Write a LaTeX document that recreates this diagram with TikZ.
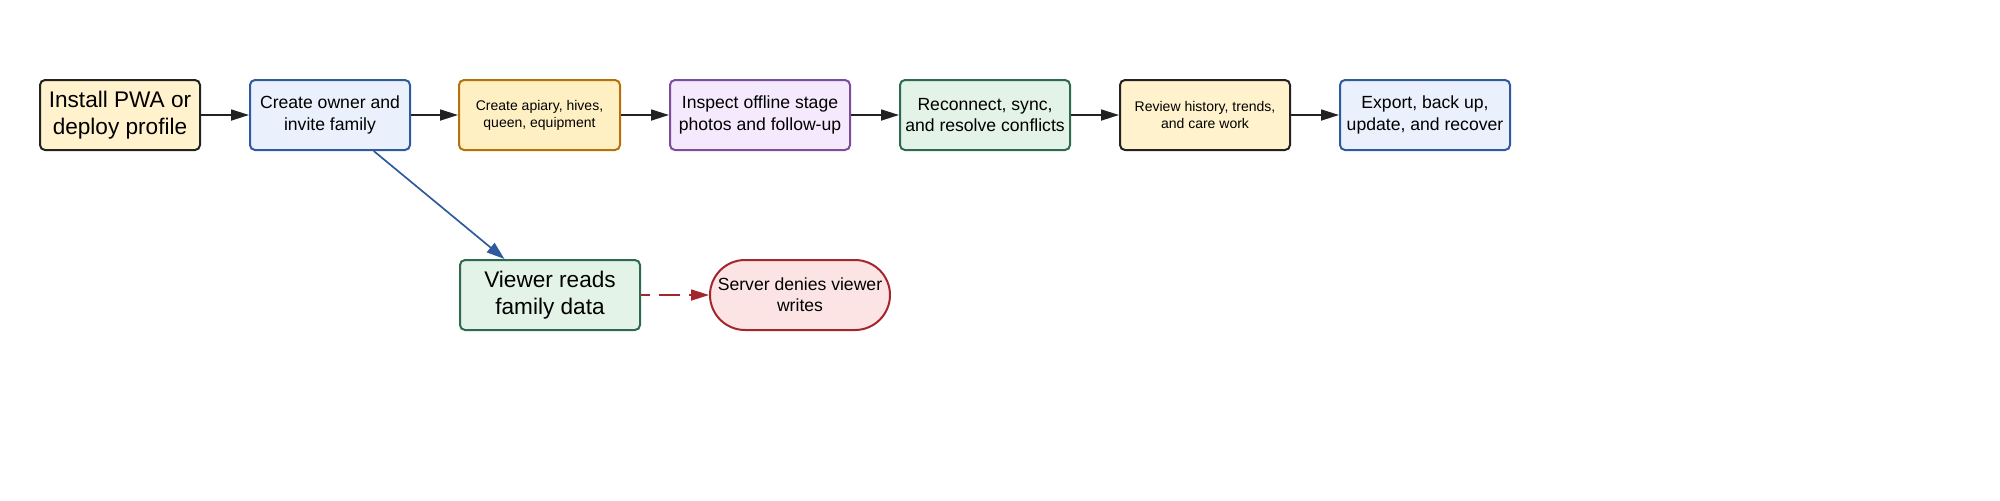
\documentclass[tikz,border=0pt]{standalone}
\usepackage{fontspec}
\setmainfont{Liberation Sans}
\usetikzlibrary{arrows.meta,calc}
\definecolor{yelfill}{HTML}{FFF2CC}
\definecolor{bluefill}{HTML}{EAF1FD}
\definecolor{bluedraw}{HTML}{2F5B9E}
\definecolor{orgfill}{HTML}{FFF0C4}
\definecolor{orgdraw}{HTML}{B8700A}
\definecolor{purfill}{HTML}{F5EAFD}
\definecolor{purdraw}{HTML}{7A4E9C}
\definecolor{grnfill}{HTML}{E3F3E8}
\definecolor{grndraw}{HTML}{2E6A50}
\definecolor{redfill}{HTML}{FCE4E4}
\definecolor{reddraw}{HTML}{A2262C}
\definecolor{darkline}{HTML}{222222}
\tikzset{
  box/.style={draw, line width=1pt, rounded corners=2.5pt, align=center, inner sep=0pt,
    minimum height=35pt, text=black},
  big/.style={font=\fontsize{11.3}{13.8}\selectfont},
  mid/.style={font=\fontsize{8.8}{10.6}\selectfont},
  sml/.style={font=\fontsize{7}{8.6}\selectfont},
  flow/.style={draw=darkline, line width=0.85pt, -{Triangle[length=9pt,width=5.5pt]}},
}
\begin{document}
\begin{tikzpicture}[x=0.5pt,y=-0.5pt]
\useasboundingbox (0,0) rectangle (2000,500);
\node[box, big, fill=yelfill, draw=darkline, minimum width=80pt] (b1) at (120,115) {Install PWA or\\deploy profile};
\node[box, mid, fill=bluefill, draw=bluedraw, minimum width=80pt] (b2) at (330,115) {Create owner and\\invite family};
\node[box, sml, fill=orgfill, draw=orgdraw, minimum width=80.5pt] (b3) at (539.5,115) {Create apiary, hives,\\queen, equipment};
\node[box, mid, fill=purfill, draw=purdraw, minimum width=90pt] (b4) at (760,115) {Inspect offline stage\\photos and follow-up};
\node[box, mid, fill=grnfill, draw=grndraw, minimum width=85pt] (b5) at (985,115) {Reconnect, sync,\\and resolve conflicts};
\node[box, sml, fill=yelfill, draw=darkline, minimum width=85pt] (b6) at (1205,115) {Review history, trends,\\and care work};
\node[box, mid, fill=bluefill, draw=bluedraw, minimum width=85pt] (b7) at (1425,115) {Export, back up,\\update, and recover};
\node[box, big, fill=grnfill, draw=grndraw, minimum width=90pt] (v) at (550,295) {Viewer reads\\family data};
\node[box, mid, fill=redfill, draw=reddraw, minimum width=90pt, rounded corners=17.5pt] (s) at (800,295) {Server denies viewer\\writes};
\draw[flow] (b1) -- (b2);
\draw[flow] (b2) -- (b3);
\draw[flow] (b3) -- (b4);
\draw[flow] (b4) -- (b5);
\draw[flow] (b5) -- (b6);
\draw[flow] (b6) -- (b7);
\draw[draw=bluedraw, line width=0.85pt, -{Triangle[length=9pt,width=6pt]}]
  ($(b2.south west)!0.77!(b2.south east)$) -- ($(v.north west)!0.25!(v.north east)$);
\draw[draw=reddraw, line width=0.85pt, dash pattern=on 10.5pt off 4.5pt, dash phase=6pt, -{Triangle[length=9pt,width=5.5pt]}] (v) -- (s);
\end{tikzpicture}
\end{document}
